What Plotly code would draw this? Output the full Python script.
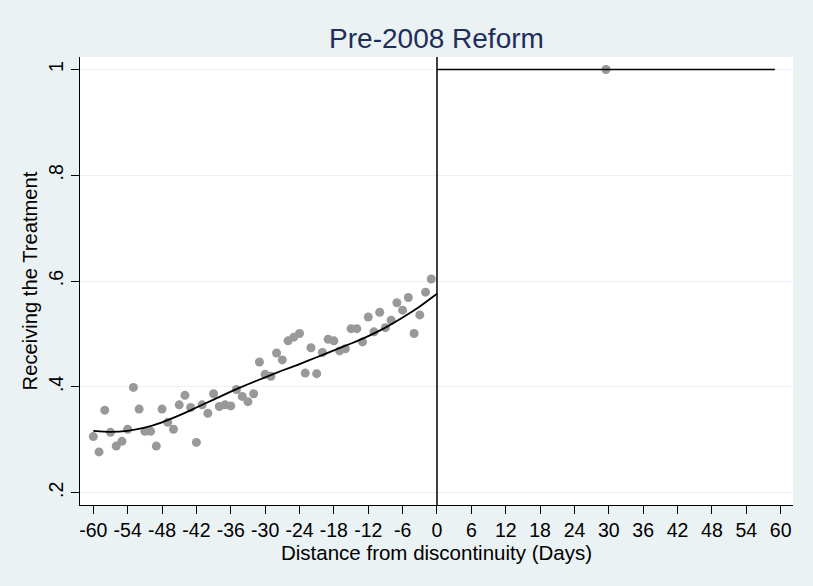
import plotly.graph_objects as go

# Binned means, days before the cutoff
days_left = list(range(-60, 0))
share_left = [
    0.306, 0.277, 0.356, 0.314, 0.288, 0.297, 0.320, 0.399, 0.358, 0.316,
    0.316, 0.288, 0.358, 0.333, 0.320, 0.366, 0.384, 0.361, 0.295, 0.366,
    0.350, 0.387, 0.363, 0.366, 0.364, 0.395, 0.382, 0.372, 0.387, 0.447,
    0.424, 0.420, 0.464, 0.451, 0.487, 0.494, 0.501, 0.426, 0.474, 0.425,
    0.465, 0.490, 0.487, 0.468, 0.472, 0.510, 0.510, 0.485, 0.532, 0.504,
    0.541, 0.512, 0.526, 0.559, 0.545, 0.569, 0.501, 0.536, 0.579, 0.604,
]

# Binned mean after the cutoff
days_right = [29.5]
share_right = [1.0]

# Fitted values, left of the cutoff
fit_left_x = [-60, -57, -54, -51, -48, -45, -42, -39, -36, -33, -30,
              -27, -24, -21, -18, -15, -12, -9, -6, -3, 0]
fit_left_y = [0.317, 0.315, 0.317, 0.323, 0.333, 0.346, 0.361, 0.376,
              0.391, 0.405, 0.418, 0.431, 0.443, 0.456, 0.469, 0.482,
              0.496, 0.512, 0.531, 0.552, 0.576]

# Fitted values, right of the cutoff
fit_right_x = [0, 59]
fit_right_y = [1.0, 1.0]

x_ticks = list(range(-60, 61, 6))
y_ticks = [0.2, 0.4, 0.6, 0.8, 1.0]
y_tick_text = [".2", ".4", ".6", ".8", "1"]

BG = "#EAF2F3"
FONT = "Liberation Sans, Arial, sans-serif"

fig = go.Figure()

fig.add_trace(go.Scatter(
    x=days_left, y=share_left, mode="markers",
    marker=dict(color="#999999", size=9, line=dict(width=0)),
    showlegend=False, hoverinfo="x+y",
))
fig.add_trace(go.Scatter(
    x=days_right, y=share_right, mode="markers",
    marker=dict(color="#999999", size=9, line=dict(width=0)),
    showlegend=False, hoverinfo="x+y",
))
fig.add_trace(go.Scatter(
    x=fit_left_x, y=fit_left_y, mode="lines",
    line=dict(color="black", width=1.8, shape="spline", smoothing=0.6),
    showlegend=False, hoverinfo="skip",
))
fig.add_trace(go.Scatter(
    x=fit_right_x, y=fit_right_y, mode="lines",
    line=dict(color="black", width=1.6),
    showlegend=False, hoverinfo="skip",
))

# Cutoff marker
fig.add_shape(type="line", xref="x", yref="paper", x0=0, x1=0, y0=0, y1=1,
              line=dict(color="black", width=1.5))

fig.update_layout(
    width=813, height=586,
    margin=dict(l=80, r=20, t=57, b=81),
    paper_bgcolor=BG, plot_bgcolor="white",
    font=dict(family=FONT, color="black", size=19),
    title=dict(text="Pre-2008 Reform", x=0.5, xref="paper", xanchor="center",
               y=1 - 38 / 586, yref="container", yanchor="middle",
               font=dict(family=FONT, size=28, color="#1f2d5a")),
    xaxis=dict(
        range=[-62.32, 62.15], tickvals=x_ticks,
        ticktext=[str(v) for v in x_ticks],
        showgrid=False, zeroline=False,
        showline=True, linecolor="black", linewidth=1,
        ticks="outside", ticklen=8, tickcolor="black", tickwidth=1,
        tickfont=dict(size=19.5),
        title=dict(text="Distance from discontinuity (Days)",
                   font=dict(size=20.5), standoff=1),
        automargin=False,
    ),
    yaxis=dict(
        range=[0.1767, 1.0236], tickvals=y_ticks, ticktext=y_tick_text,
        tickangle=-90,
        showgrid=True, gridcolor=BG, gridwidth=1, zeroline=False,
        showline=True, linecolor="black", linewidth=1,
        ticks="outside", ticklen=8, tickcolor="black", tickwidth=1,
        tickfont=dict(size=19.5),
        title=dict(text="Receiving the Treatment", font=dict(size=20.2),
                   standoff=2),
        automargin=False,
    ),
)

fig.write_html("out.html")
